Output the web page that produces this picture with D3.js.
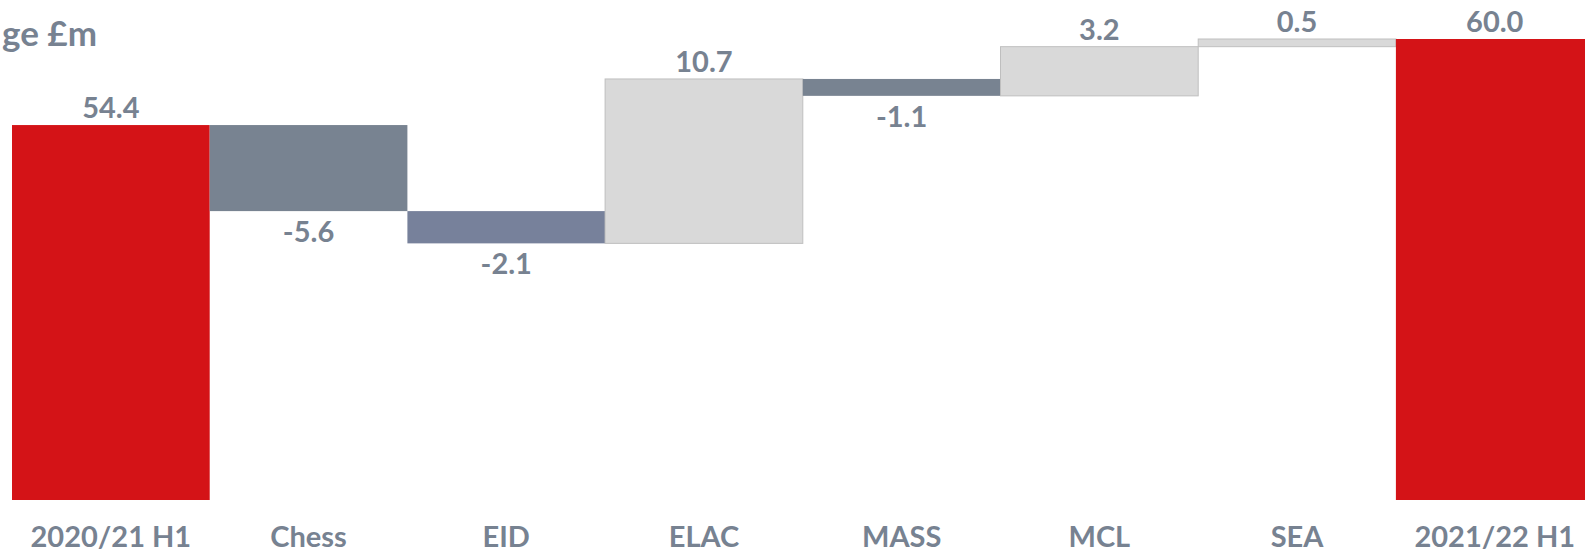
<!DOCTYPE html>
<html>
<head>
<meta charset="utf-8">
<script src="https://cdn.jsdelivr.net/npm/d3@7"></script>
<style>
  body { margin: 0; background: #fff; }
  text { font-family: Lato, "Open Sans", sans-serif; font-weight: 700; fill: #778291; }
</style>
</head>
<body>
<div id="chart"></div>
<script>
var categories = ["2020/21 H1", "Chess", "EID", "ELAC", "MASS", "MCL", "SEA", "2021/22 H1"];
var values = [54.4, -5.6, -2.1, 10.7, -1.1, 3.2, 0.5, 60.0];
var isTotal = [true, false, false, false, false, false, false, true];
var barColors = ["#d41317", "#788391", "#77819b", "#d9d9d9", "#788391", "#d9d9d9", "#d9d9d9", "#d41317"];
var titleText = "ge £m";

function draw_waterfall() {
    var width = 1585, height = 555;

    // running totals
    var rows = [];
    var run = 0;
    categories.forEach(function(c, i) {
        var start, end;
        if (isTotal[i]) { start = 0; end = values[i]; run = values[i]; }
        else { start = run; end = run + values[i]; run = end; }
        rows.push({cat: c, v: values[i], lo: Math.min(start, end), hi: Math.max(start, end), color: barColors[i], total: isTotal[i]});
    });

    var x = d3.scaleBand()
        .domain(categories)
        .range([12, 12 + 8 * 197.7])
        .padding(0);
    var y = d3.scaleLinear()
        .domain([30, 60])
        .range([500, 39]);

    var svg = d3.select("#chart")
        .append("svg")
        .attr("width", width)
        .attr("height", height);

    svg.append("text")
        .attr("x", 2)
        .attr("y", 46)
        .style("font-size", "35px")
        .text(titleText);

    svg.selectAll("rect.bar")
        .data(rows)
        .enter().append("rect")
        .attr("class", "bar")
        .attr("x", function(d) { return x(d.cat); })
        .attr("width", x.bandwidth())
        .attr("y", function(d) { return y(d.hi); })
        .attr("height", function(d) { return (d.total ? y.range()[0] : y(d.lo)) - y(d.hi); })
        .attr("fill", function(d) { return d.color; })
        .attr("stroke", function(d) { return d.color == "#d9d9d9" ? "#bfbfbf" : "none"; })
        .attr("stroke-width", 1);

    svg.selectAll("text.val")
        .data(rows)
        .enter().append("text")
        .attr("class", "val")
        .attr("x", function(d) { return x(d.cat) + x.bandwidth() / 2; })
        .attr("y", function(d) { return d.v >= 0 ? y(d.hi) - 7 : y(d.lo) + 31; })
        .attr("text-anchor", "middle")
        .style("font-size", "29px")
        .text(function(d) { return d.v.toFixed(1); });

    var xAxis = d3.axisBottom(x).tickSize(0).tickPadding(0);
    var gx = svg.append("g")
        .attr("transform", "translate(0, 525)")
        .call(xAxis);
    gx.select(".domain").remove();
    gx.selectAll("text")
        .attr("dy", "0.75em")
        .style("font-size", "29px")
        .style("font-family", "Lato, 'Open Sans', sans-serif")
        .style("font-weight", 700)
        .attr("fill", "#778291");
}
draw_waterfall();
</script>
</body>
</html>
